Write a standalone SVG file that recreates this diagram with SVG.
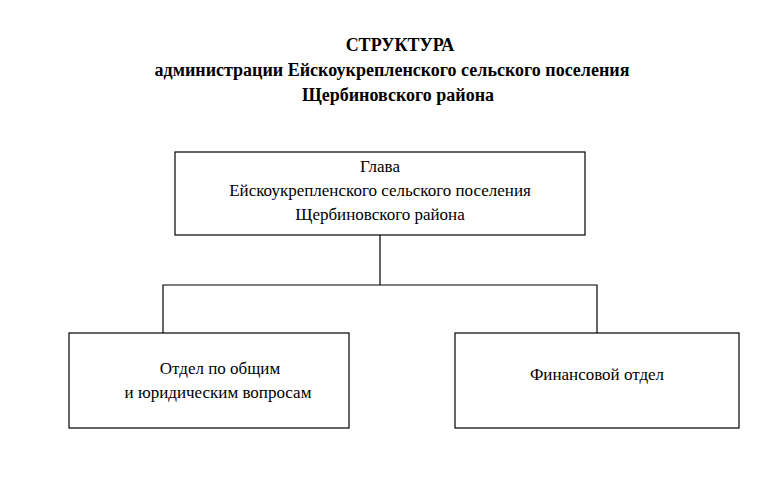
<svg xmlns="http://www.w3.org/2000/svg" width="764" height="481" viewBox="0 0 764 481">
<style>
text{font-family:"Liberation Serif","Times New Roman",serif;fill:#000}
.t{font-size:18px;font-weight:bold;text-anchor:middle}
.n{font-size:17px}
.b{fill:#fff;stroke:#000;stroke-width:1.2}
.c{fill:none;stroke:#000;stroke-width:1.2}
</style>
<rect width="764" height="481" fill="#fff"/>
<g id="title">
<text class="t" x="400" y="51">СТРУКТУРА</text>
<text class="t" x="392" y="76">администрации Ейскоукрепленского сельского поселения</text>
<text class="t" x="398" y="101">Щербиновского района</text>
</g>
<g id="connectors">
<path class="c" d="M380 235V285M163 333V285H597V333"/>
</g>
<g id="head">
<rect class="b" x="175" y="152" width="410" height="83"/>
<text class="n" x="380" y="172" text-anchor="middle">Глава</text>
<text class="n" x="380" y="196" text-anchor="middle">Ейскоукрепленского сельского поселения</text>
<text class="n" x="380" y="220" text-anchor="middle">Щербиновского района</text>
</g>
<g id="legal">
<rect class="b" x="69" y="333" width="280" height="95"/>
<text class="n" x="220" y="374" text-anchor="middle">Отдел по общим</text>
<text class="n" x="218" y="398" text-anchor="middle">и юридическим вопросам</text>
</g>
<g id="finance">
<rect class="b" x="455" y="333" width="284" height="95"/>
<text class="n" x="597" y="380" text-anchor="middle">Финансовой отдел</text>
</g>
</svg>
